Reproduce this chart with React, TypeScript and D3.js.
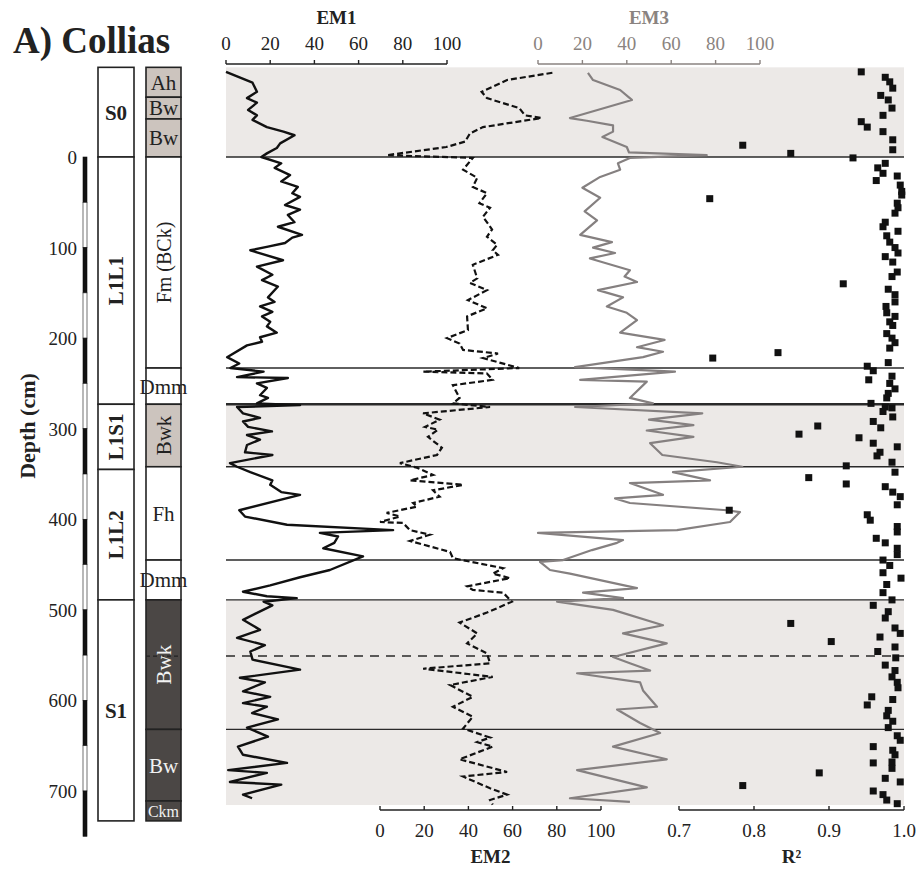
import React from "react";
import * as d3 from "d3";

// ---------- DATA ----------
const em1Depth = [-94,-82,-72,-65,-60,-52,-46,-41,-33,-28,-24,-15,-10,-4,0,7,12,20,27,33,40,44,53,58,64,72,77,86,89,95,99,103,114,121,130,136,143,155,160,165,171,176,182,187,194,199,204,208,221,228,233,237,243,244,250,255,263,266,272,274,276,283,288,292,298,303,307,312,318,326,329,338,342,348,357,362,370,373,390,397,406,412,415,419,426,432,441,456,464,473,480,485,487,491,495,511,522,531,539,546,555,566,575,580,590,596,603,607,614,621,630,640,651,660,669,677,680,690,693,704,708];
const em1Value = [0,12,14,9.5,14,10,14,12,18.5,26,31,24.5,23,18.5,16,25,22,29,25,32.5,30,33.5,26.7,33.5,28,31,23.5,34.4,30,26.7,19,11,25.8,14,21,16.3,23.5,19,22,15.4,21,16.3,20,18.5,23,15.4,16.3,9.5,0.5,6,2,17,5,28,14,18.5,15.4,19,14,33.5,5,7.7,15.4,7.7,10,20.8,9.5,15.4,9.5,8.6,21,1.8,5,11,21,20,25,33.5,6,8.6,27.6,75.6,42.5,50.7,49,44,62,47,33.5,20,7.7,18.5,32,17,21,7.7,15.4,5,17.6,11,12,33.5,6.3,17.6,7.7,20,7.7,18.5,11.8,23.5,9.5,19,5.4,7.7,27.6,1,18.5,1.8,25,7.7,11.8];

const em2Depth = [-93,-85,-72,-65,-54,-46,-43,-33,-26,-17,-11,-2,1,14,23,33,40,51,56,66,80,88,97,103,108,119,134,139,147,158,167,176,191,200,206,213,217,222,233,237,239,246,252,266,272,276,283,290,298,301,309,321,329,338,343,351,357,362,368,375,382,386,393,397,403,404,412,417,424,436,443,454,460,465,474,478,481,491,503,514,526,537,548,559,565,574,583,596,607,618,631,641,646,651,665,679,684,697,704,710,715];
const em2Value = [78,57.5,46,48.4,63,65.6,73,46.6,40.7,38.5,30,3,42,37.6,44,42,48.4,45,49.8,46.6,50.7,48.4,53,51,53.4,42,44,40.7,48.4,39.8,48.4,39.4,39.8,30.3,36,37.6,53.4,46.6,63,19.5,48.4,51,33,36,33,49.8,19.5,27,20.4,26.2,21.7,28,25.8,9,16.7,24,13.6,37.6,24,27,15,16.7,3,9,0,10.4,13.6,22.6,13.6,31.7,33,55.7,51,58.8,39.4,42,55.7,59.7,48.4,36,44,39.4,48.4,49.8,19.5,51,31.7,42,33,42,37.6,49.8,44,51,36,57.5,37.6,49.8,57.5,49.8,51];

const em3Depth = [-93,-85,-74,-63,-43,-40,-35,-28,-22,-11,-5,-2,1,7,14,22,34,45,60,70,86,94,100,106,112,125,132,138,147,155,165,172,180,194,202,210,215,221,232,237,246,248,266,272,276,283,290,296,302,309,316,329,337,342,348,357,360,373,377,382,390,392,403,412,415,423,426,434,445,447,456,460,476,481,487,491,500,517,526,537,552,559,567,570,580,589,607,610,625,636,651,665,677,696,708,712];
const em3Value = [22.5,24.8,37,42.3,14.4,22,33.8,33.8,29,40,41,76,41.4,36,37,28,20,28,21,26.6,19,33.3,24.8,34.7,23.4,41.4,39,44.6,27,38.3,31,40,44.6,37,57,44.6,56.3,47.3,16.7,61.7,19,49,41.4,51.8,16.7,74,50,70,49,70,50.5,56,80.6,92,60.8,77.5,41.4,56.3,34.7,41.4,85,91,86.5,62.6,0,38.3,35.6,24.3,11.3,0.9,5.4,14.4,44.6,20.3,38.3,8.6,33.8,56.3,38.3,58,33.8,41.4,50.5,17.6,46,47.3,53.6,35.6,46,55,33.8,58,17.6,49,14.4,41.4];

const r2Depth = [-94,-88,-83,-76,-68,-63,-54,-46,-39,-33,-28,-19,-8,-13,-4,1,7,12,18,21,26,31,38,42,46,51,56,62,72,77,82,87,94,100,106,110,116,127,132,140,146,152,160,165,172,176,182,186,195,200,205,211,216,222,227,231,236,242,246,250,256,261,266,272,276,277,281,287,292,299,297,306,310,316,320,326,330,337,341,348,354,361,364,370,375,384,390,395,401,408,414,421,426,432,439,445,451,459,465,472,481,489,495,502,509,515,520,526,530,535,541,546,553,561,567,574,580,586,596,599,605,611,617,623,630,639,644,651,655,660,668,669,675,680,686,690,694,700,704,710,714];
const r2Value = [0.943,0.975,0.981,0.985,0.969,0.979,0.984,0.972,0.943,0.951,0.972,0.985,0.985,0.785,0.849,0.932,0.975,0.965,0.972,0.991,0.963,0.995,0.997,0.997,0.741,0.991,0.992,0.988,0.975,0.972,0.992,0.977,0.981,0.988,0.992,0.975,0.985,0.991,0.984,0.919,0.979,0.988,0.988,0.976,0.977,0.988,0.981,0.985,0.977,0.984,0.988,0.981,0.832,0.745,0.979,0.951,0.959,0.984,0.953,0.981,0.988,0.979,0.977,0.956,0.975,0.984,0.972,0.985,0.959,0.969,0.885,0.860,0.940,0.959,0.991,0.968,0.964,0.984,0.923,0.988,0.873,0.923,0.975,0.985,0.995,0.991,0.767,0.951,0.955,0.991,0.991,0.963,0.975,0.991,0.991,0.972,0.981,0.972,0.996,0.977,0.972,0.984,0.959,0.979,0.975,0.849,0.988,0.995,0.968,0.903,0.988,0.965,0.989,0.975,0.988,0.984,0.991,0.992,0.957,0.985,0.951,0.979,0.977,0.985,0.979,0.991,0.995,0.959,0.985,0.988,0.984,0.959,0.984,0.887,0.975,0.995,0.785,0.959,0.972,0.977,0.991];

const unitNames = ["S0", "L1L1", "L1S1", "L1L2", "S1"];
const unitTops = [-99, 0, 273, 345, 489];
const unitBottoms = [0, 273, 345, 489, 733];
const unitRotated = [false, true, true, true, false];

const horizonNames = ["Ah", "Bw", "Bw", "Fm (BCk)", "Dmm", "Bwk", "Fh", "Dmm", "Bwk", "Bw", "Ckm"];
const horizonTops = [-99, -66, -42, 0, 233, 273, 342, 445, 489, 632, 711];
const horizonBottoms = [-66, -42, 0, 233, 273, 342, 445, 489, 632, 711, 733];
const horizonFill = ["light", "light", "light", "none", "none", "light", "none", "none", "dark", "dark", "dark"];
const horizonRotated = [false, false, false, true, false, true, false, false, true, false, false];

const bandTops = [-99, 273, 489];
const bandBottoms = [0, 342, 715.5];
const boundaryDepths = [0, 233, 273, 342, 445, 489, 632];
const dashedDepths = [551];

const pctTicks = [0, 20, 40, 60, 80, 100];
const r2Ticks = [0.7, 0.8, 0.9, 1.0];
const depthTicks = [0, 100, 200, 300, 400, 500, 600, 700];
const scaleBarSteps = [0, 50, 100, 150, 200, 250, 300, 350, 400, 450, 500, 550, 600, 650, 700];

// ---------- STYLE ----------
const SERIF = "'Liberation Serif', 'Times New Roman', serif";
const GREY_TXT = "#8a8380";
const BAND = "#ece9e7";
const LIGHT = "#ccc4be";
const DARK = "#4b4745";

export default function App() {
  const W = 920, H = 875;
  const y = d3.scaleLinear().domain([0, 700]).range([157, 791]);
  const xEM1 = d3.scaleLinear().domain([0, 100]).range([226, 447]);
  const xEM2 = d3.scaleLinear().domain([0, 100]).range([380, 601]);
  const xEM3 = d3.scaleLinear().domain([0, 100]).range([538, 760]);
  const xR2 = d3.scaleLinear().domain([0.7, 1.0]).range([679, 904]);
  const plotL = 226, plotR = 904;

  const mk = (xs: d3.ScaleLinear<number, number>, ds: number[], vs: number[]) =>
    d3.line<number>().x((_, i) => xs(vs[i])).y((d) => y(d))(ds) || "";

  const col1 = [98, 134];
  const col2 = [146, 181];

  const topAxisY = 64;
  const botAxisY = 810;

  const topAxis = (xs: d3.ScaleLinear<number, number>, color: string, title: string) => (
    <g>
      <line x1={xs(0)} x2={xs(100)} y1={topAxisY} y2={topAxisY} stroke={color} strokeWidth={1.4} />
      {pctTicks.map((t) => (
        <g key={t}>
          <line x1={xs(t)} x2={xs(t)} y1={topAxisY} y2={topAxisY - 4} stroke={color} strokeWidth={1.4} />
          <text x={xs(t)} y={50} textAnchor="middle" fontSize={19} fill={color} fontFamily={SERIF}>{t}</text>
        </g>
      ))}
      <text x={(xs(0) + xs(100)) / 2} y={24} textAnchor="middle" fontSize={19} fontWeight="bold" fill={color} fontFamily={SERIF}>{title}</text>
    </g>
  );

  return (
    <svg width={W} height={H} style={{ display: "block", position: "absolute", left: 0, top: 0 }}>
      <rect width={W} height={H} fill="#fff" />
      <text x={13} y={53} fontSize={37} fontWeight="bold" fontFamily={SERIF} fill="#222">A) Collias</text>

      {/* shaded bands */}
      {bandTops.map((t, i) => (
        <rect key={i} x={plotL} y={y(t)} width={plotR - plotL} height={y(bandBottoms[i]) - y(t)} fill={BAND} />
      ))}

      {/* boundary lines */}
      {boundaryDepths.map((d) => (
        <line key={d} x1={plotL} x2={plotR} y1={y(d)} y2={y(d)} stroke="#2a2a2a" strokeWidth={d === 273 ? 2.6 : 1.4} />
      ))}
      {dashedDepths.map((d) => (
        <line key={d} x1={plotL} x2={plotR} y1={y(d)} y2={y(d)} stroke="#2a2a2a" strokeWidth={1.4} strokeDasharray="9,7" />
      ))}

      {/* series */}
      <path d={mk(xEM3, em3Depth, em3Value)} fill="none" stroke="#858080" strokeWidth={2.2} strokeLinejoin="round" />
      <path d={mk(xEM1, em1Depth, em1Value)} fill="none" stroke="#111" strokeWidth={2.4} strokeLinejoin="round" />
      <path d={mk(xEM2, em2Depth, em2Value)} fill="none" stroke="#111" strokeWidth={2.2} strokeDasharray="6,3" />
      {r2Depth.map((d, i) => (
        <rect key={i} x={xR2(r2Value[i]) - 3.5} y={y(d) - 3.5} width={7} height={7} fill="#111" />
      ))}

      {/* axes */}
      {topAxis(xEM1, "#222", "EM1")}
      {topAxis(xEM3, GREY_TXT, "EM3")}

      <g>
        <line x1={xEM2(0)} x2={xEM2(100)} y1={botAxisY} y2={botAxisY} stroke="#222" strokeWidth={1.4} />
        {pctTicks.map((t) => (
          <g key={t}>
            <line x1={xEM2(t)} x2={xEM2(t)} y1={botAxisY} y2={botAxisY - 4} stroke="#222" strokeWidth={1.4} />
            <text x={xEM2(t)} y={837} textAnchor="middle" fontSize={19} fill="#222" fontFamily={SERIF}>{t}</text>
          </g>
        ))}
        <text x={(xEM2(0) + xEM2(100)) / 2} y={863} textAnchor="middle" fontSize={19} fontWeight="bold" fill="#222" fontFamily={SERIF}>EM2</text>
      </g>
      <g>
        <line x1={xR2(0.7)} x2={xR2(1.0)} y1={botAxisY} y2={botAxisY} stroke="#222" strokeWidth={1.4} />
        {r2Ticks.map((t) => (
          <g key={t}>
            <line x1={xR2(t)} x2={xR2(t)} y1={botAxisY} y2={botAxisY - 4} stroke="#222" strokeWidth={1.4} />
            <text x={xR2(t)} y={837} textAnchor="middle" fontSize={19} fill="#222" fontFamily={SERIF}>{t.toFixed(1)}</text>
          </g>
        ))}
        <text x={(xR2(0.7) + xR2(1.0)) / 2} y={863} textAnchor="middle" fontSize={19} fontWeight="bold" fill="#222" fontFamily={SERIF}>R²</text>
      </g>

      {/* depth scale */}
      {scaleBarSteps.map((d, i) => (
        <rect key={d} x={83} y={y(d)} width={4} height={y(d + 50) - y(d)} fill={i % 2 === 0 ? "#111" : "#fff"} stroke="#111" strokeWidth={0.6} />
      ))}
      {depthTicks.map((t) => (
        <text key={t} x={77} y={y(t) + 7} textAnchor="end" fontSize={19} fill="#222" fontFamily={SERIF}>{t}</text>
      ))}
      <text transform={`translate(35, ${y(297)}) rotate(-90)`} textAnchor="middle" fontSize={22} fontWeight="bold" fill="#222" fontFamily={SERIF}>Depth (cm)</text>

      {/* unit column */}
      {unitNames.map((n, i) => {
        const y0 = y(unitTops[i]), y1 = y(unitBottoms[i]);
        const cx = (col1[0] + col1[1]) / 2, cy = (y0 + y1) / 2;
        return (
          <g key={i}>
            <rect x={col1[0]} y={y0} width={col1[1] - col1[0]} height={y1 - y0} fill="#fff" stroke="#222" strokeWidth={1.6} />
            <text transform={`translate(${cx}, ${cy}) ${unitRotated[i] ? "rotate(-90)" : ""}`} textAnchor="middle" dy="0.35em" fontSize={21} fontWeight="bold" fill="#222" fontFamily={SERIF}>{n}</text>
          </g>
        );
      })}

      {/* horizon column */}
      {horizonNames.map((n, i) => {
        const y0 = y(horizonTops[i]), y1 = y(horizonBottoms[i]);
        const fill = horizonFill[i] === "light" ? LIGHT : horizonFill[i] === "dark" ? DARK : "#fff";
        return (
          <rect key={i} x={col2[0]} y={y0} width={col2[1] - col2[0]} height={y1 - y0} fill={fill} stroke="#222" strokeWidth={1.6} />
        );
      })}
      {dashedDepths.map((d) => (
        <line key={d} x1={col2[0]} x2={col2[1]} y1={y(d)} y2={y(d)} stroke="#222" strokeWidth={1.2} strokeDasharray="4,3" />
      ))}
      {horizonNames.map((n, i) => {
        const y0 = y(horizonTops[i]), y1 = y(horizonBottoms[i]);
        const cx = (col2[0] + col2[1]) / 2, cy = (y0 + y1) / 2;
        const color = horizonFill[i] === "dark" ? "#f2f2f2" : "#222";
        const fs = n === "Ckm" ? 16 : n === "Fm (BCk)" ? 20 : 21;
        return (
          <text key={i} transform={`translate(${cx}, ${cy}) ${horizonRotated[i] ? "rotate(-90)" : ""}`} textAnchor="middle" dy="0.35em" fontSize={fs} fill={color} fontFamily={SERIF}>{n}</text>
        );
      })}
    </svg>
  );
}
